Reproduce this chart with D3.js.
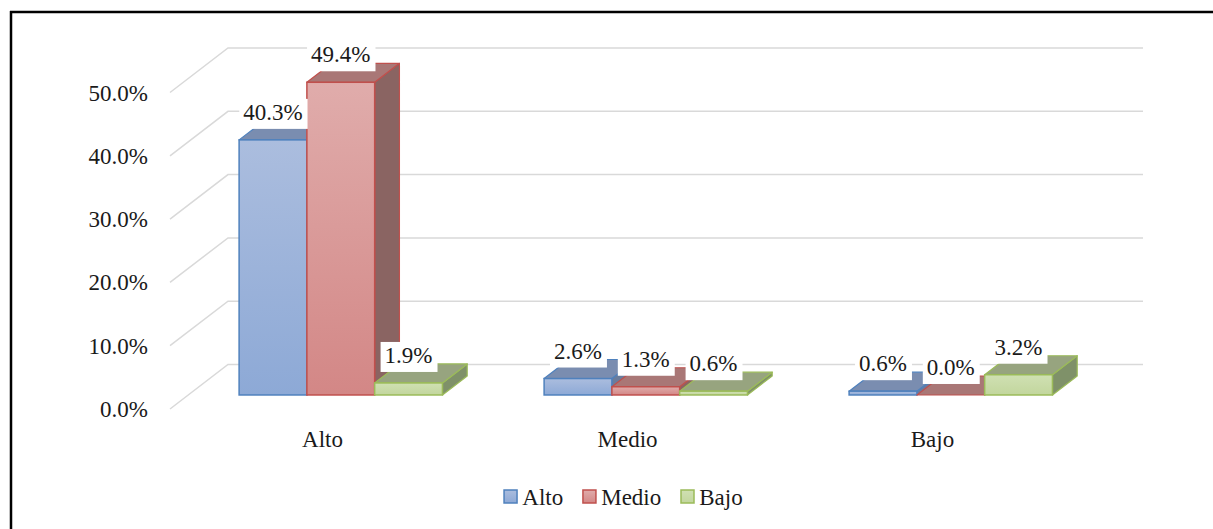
<!DOCTYPE html>
<html>
<head>
<meta charset="utf-8">
<script src="https://cdn.jsdelivr.net/npm/d3@7"></script>
<style>
  body { margin: 0; background: #fff; }
</style>
</head>
<body>
<svg id="chart"></svg>
<script>
// categories on the x axis, series in the legend
const categories = ["Alto", "Medio", "Bajo"];
const seriesNames = ["Alto", "Medio", "Bajo"];
// values per series, one per category (in %)
const altoValues = [40.3, 2.6, 0.6];
const medioValues = [49.4, 1.3, 0.0];
const bajoValues = [1.9, 0.6, 3.2];
const yTicks = [0, 10, 20, 30, 40, 50];

const seriesValues = [altoValues, medioValues, bajoValues];

const width = 1213, height = 529;
const fontSize = 23;
const svg = d3.select("#chart").attr("width", width).attr("height", height)
  .attr("font-family", "'Liberation Serif', 'Times New Roman', serif");

// colours for each series: stroke, front gradient, top, side
const palette = [
  {stroke: "#4f81bd", f1: "#abbdde", f2: "#8da9d6", top: "#7a8db0", side: "#6a7c9c"},
  {stroke: "#c0504d", f1: "#e0acab", f2: "#d38786", top: "#a97776", side: "#8a6462"},
  {stroke: "#9bbb59", f1: "#d0e0b3", f2: "#c2d69d", top: "#97a47f", side: "#7f9169"}
];

// oblique 3d: depth offset of the back wall
const depthX = 58, depthY = -44.5;
const zFront = 0.315, zBack = 0.742;

const x = d3.scaleBand().domain(categories).range([170, 1085]);
const xInner = d3.scaleBand().domain(seriesNames)
  .range([x.bandwidth() / 6, x.bandwidth() * 5 / 6]);
const y = d3.scaleLinear().domain([0, 50]).range([409, 92.5]);

const px = (sx, z) => sx + z * depthX;
const py = (sy, z) => sy + z * depthY;

// border of the chart area
svg.append("line").attr("x1", 11).attr("y1", 11).attr("x2", 11).attr("y2", height)
  .attr("stroke", "#000").attr("stroke-width", 2.5);
svg.append("line").attr("x1", 10).attr("y1", 12).attr("x2", width).attr("y2", 12)
  .attr("stroke", "#000").attr("stroke-width", 2.5);

// gridlines: side wall diagonal + back wall horizontal
const grid = svg.append("g");
yTicks.forEach(t => {
  const x0 = x.range()[0], x1 = x.range()[1];
  grid.append("path")
    .attr("d", `M${x0},${y(t)} L${px(x0, 1)},${py(y(t), 1)} L${px(x1, 1)},${py(y(t), 1)}`)
    .attr("fill", "none").attr("stroke", "#d9d9d9").attr("stroke-width", 1.5);
});

// y axis labels
svg.append("g").selectAll("text").data(yTicks).join("text")
  .attr("x", 148).attr("y", d => y(d)).attr("dy", "0.35em")
  .attr("text-anchor", "end").attr("font-size", fontSize).attr("fill", "#1a1a1a")
  .text(d => d.toFixed(1) + "%");

// gradients
const defs = svg.append("defs");
palette.forEach((p, i) => {
  const g = defs.append("linearGradient").attr("id", "grad" + i)
    .attr("x1", 0).attr("y1", 0).attr("x2", 0).attr("y2", 1);
  g.append("stop").attr("offset", "0%").attr("stop-color", p.f1);
  g.append("stop").attr("offset", "100%").attr("stop-color", p.f2);
});

// build bar list
const bars = [];
categories.forEach((c, ci) => {
  seriesNames.forEach((s, si) => {
    const v = seriesValues[si][ci];
    const xl = x(c) + xInner(s), xr = xl + xInner.bandwidth();
    bars.push({ci, si, v, xl, xr});
  });
});

const barG = svg.append("g");
bars.forEach(b => {
  const p = palette[b.si];
  const y0 = y(0), y1 = y(b.v);
  const pt = (sx, sy, z) => [px(sx, z), py(sy, z)];
  const poly = pts => "M" + pts.map(q => q.join(",")).join("L") + "Z";
  // side face
  barG.append("path")
    .attr("d", poly([pt(b.xr, y1, zFront), pt(b.xr, y1, zBack), pt(b.xr, y0, zBack), pt(b.xr, y0, zFront)]))
    .attr("fill", p.side).attr("stroke", p.stroke).attr("stroke-width", 1.2).attr("stroke-linejoin", "round");
  // top face
  barG.append("path")
    .attr("d", poly([pt(b.xl, y1, zFront), pt(b.xl, y1, zBack), pt(b.xr, y1, zBack), pt(b.xr, y1, zFront)]))
    .attr("fill", p.top).attr("stroke", p.stroke).attr("stroke-width", 1.2).attr("stroke-linejoin", "round");
  // front face
  if (b.v > 0) {
    barG.append("rect")
      .attr("x", px(b.xl, zFront)).attr("y", py(y1, zFront))
      .attr("width", b.xr - b.xl).attr("height", y0 - y1)
      .attr("fill", `url(#grad${b.si})`).attr("stroke", p.stroke).attr("stroke-width", 1.5);
  }
});

// data labels with white boxes
const labelG = svg.append("g");
bars.forEach(b => {
  const cx = px((b.xl + b.xr) / 2, zFront);
  const by = py(y(b.v), zFront) - 20;
  const g = labelG.append("g");
  const rect = g.append("rect").attr("fill", "#fff");
  const t = g.append("text").attr("x", cx).attr("y", by)
    .attr("text-anchor", "middle").attr("font-size", fontSize).attr("fill", "#1a1a1a")
    .text(b.v.toFixed(1) + "%");
  const bb = t.node().getBBox();
  rect.attr("x", bb.x - 4).attr("y", bb.y - 1).attr("width", bb.width + 9).attr("height", bb.height + 5);
});

// category labels
svg.append("g").selectAll("text").data(categories).join("text")
  .attr("x", d => x(d) + x.bandwidth() / 2).attr("y", 447)
  .attr("text-anchor", "middle").attr("font-size", fontSize).attr("fill", "#1a1a1a")
  .text(d => d);

// legend
const legend = svg.append("g");
let lx = 0;
seriesNames.forEach((s, i) => {
  const item = legend.append("g").attr("transform", `translate(${lx},0)`);
  item.append("rect").attr("x", 0.75).attr("y", -7).attr("width", 13).attr("height", 13)
    .attr("fill", `url(#grad${i})`).attr("stroke", palette[i].stroke).attr("stroke-width", 1.5);
  const t = item.append("text").attr("x", 19).attr("y", 0).attr("dy", "0.35em")
    .attr("font-size", fontSize).attr("fill", "#1a1a1a").text(s);
  lx += 19 + t.node().getComputedTextLength() + 19;
});
const legendW = lx - 19;
legend.attr("transform", `translate(${623 - legendW / 2},497)`);
</script>
</body>
</html>
